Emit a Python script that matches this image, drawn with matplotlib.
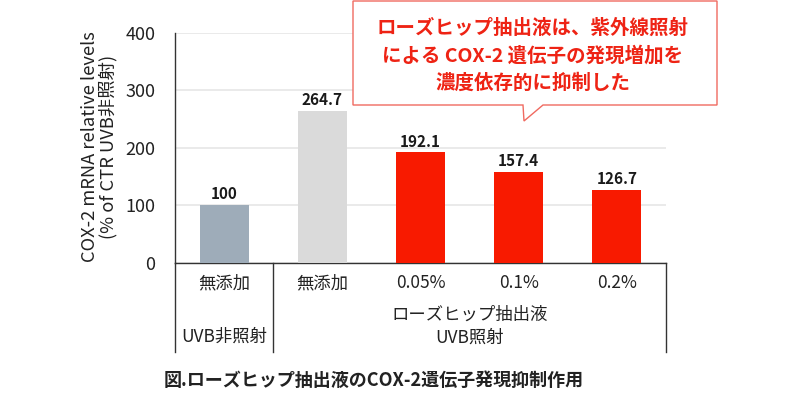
import matplotlib
matplotlib.use("Agg")
import matplotlib.pyplot as plt
from matplotlib.patches import Polygon
from matplotlib.transforms import blended_transform_factory

plt.rcParams['font.family'] = ['Noto Sans CJK JP', 'DejaVu Sans']

categories = ["無添加", "無添加", "0.05%", "0.1%", "0.2%"]
values = [100, 264.7, 192.1, 157.4, 126.7]
value_labels = ["100", "264.7", "192.1", "157.4", "126.7"]
colors = ["#9eacb9", "#dadada", "#f81a00", "#f81a00", "#f81a00"]
yticks = [0, 100, 200, 300, 400]
group1_label = "UVB非照射"
group2_label = "ローズヒップ抽出液\nUVB照射"
ylabel = "COX-2 mRNA relative levels\n(% of CTR UVB非照射)"
callout = "ローズヒップ抽出液は、紫外線照射\nによる COX-2 遺伝子の発現増加を\n濃度依存的に抑制した"
caption = "図.ローズヒップ抽出液のCOX-2遺伝子発現抑制作用"

W, H = 798, 393
fig = plt.figure(figsize=(W / 100, H / 100), dpi=100)

def fx(x):
    return x / W

def fy(y):
    return 1 - y / H

ax_l, ax_r, ax_t, ax_b = 175, 666, 33, 262.7
ax = fig.add_axes([fx(ax_l), fy(ax_b), (ax_r - ax_l) / W, (ax_b - ax_t) / H])

x = list(range(len(values)))
ax.bar(x, values, width=0.5, color=colors, zorder=3)
for xi, v, lab in zip(x, values, value_labels):
    ax.text(xi, v + 5, lab, ha='center', va='bottom', fontsize=11,
            fontweight='bold', color='#1a1a1a', zorder=4)

ax.set_xlim(-0.5, len(values) - 0.5)
ax.set_ylim(0, 400)
ax.set_yticks(yticks)
ax.set_yticklabels([str(t) for t in yticks], fontsize=13, color='#222222')
ax.tick_params(axis='y', length=0, pad=14)
ax.set_xticks([])
ax.grid(axis='y', color='#e6e6e6', linewidth=1.2, zorder=0)
for s in ['top', 'right']:
    ax.spines[s].set_visible(False)
for s in ['left', 'bottom']:
    ax.spines[s].set_color('#333333')
    ax.spines[s].set_linewidth(1.0)

# category labels below axis
tb = blended_transform_factory(ax.transData, fig.transFigure)
for xi, c in zip(x, categories):
    ax.text(xi, fy(283), c, transform=tb, ha='center', va='center',
            fontsize=12.5, color='#222222')
ax.text(0, fy(337), group1_label, transform=tb, ha='center', va='center',
        fontsize=12.5, color='#222222')
ax.text(2.5, fy(326), group2_label, transform=tb, ha='center', va='center',
        fontsize=12.5, color='#222222', linespacing=1.35)

# separator lines below axis
for xs in [-0.5, 0.5, len(values) - 0.5]:
    ax.plot([xs, xs], [fy(ax_b), fy(352)], transform=tb, color='#333333',
            linewidth=1.0, clip_on=False)

# y label
fig.text(fx(99), fy(147), ylabel, rotation=90, ha='center', va='center',
         fontsize=13.2, color='#222222', multialignment='center',
         linespacing=1.0)

# callout
pts = [(353, 1), (717, 1), (717, 105), (543, 105), (524, 121), (523, 105), (353, 105)]
poly = Polygon([(fx(px), fy(py)) for px, py in pts], closed=True,
               transform=fig.transFigure, facecolor='white', edgecolor='#f06a60',
               linewidth=1.0, zorder=10)
fig.patches.append(poly)
fig.text(fx(533), fy(56), callout, ha='center', va='center', fontsize=14,
         fontweight='bold', color='#ee2314', linespacing=1.5, zorder=11)

# caption
fig.text(fx(164), fy(380), caption, ha='left', va='center', fontsize=13,
         fontweight='bold', color='#222222')

fig.savefig("out.png", dpi=100)
